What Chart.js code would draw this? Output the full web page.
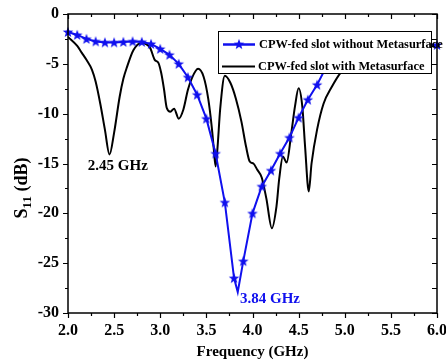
<!DOCTYPE html>
<html><head><meta charset="utf-8">
<script src="https://cdn.jsdelivr.net/npm/chart.js@4/dist/chart.umd.min.js"></script>
<style>html,body{margin:0;padding:0;background:#fff}</style>
</head><body>
<canvas id="c" width="446" height="363" style="display:block;width:446px;height:363px"></canvas>
<script>
// ---- data ----
const seriesNames = ['CPW-fed slot without Metasurface', 'CPW-fed slot with Metasurface'];
const freqWithout = [2.0,2.1,2.2,2.3,2.4,2.5,2.6,2.7,2.8,2.9,3.0,3.1,3.2,3.3,3.4,3.5,3.6,3.7,3.8,3.84,3.9,4.0,4.1,4.2,4.3,4.4,4.5,4.6,4.7,4.8,4.9,5.0,5.1,5.2,5.3,5.4,5.5,5.6,5.7,5.8,5.9,6.0];
const s11Without = [-1.8,-2.1,-2.5,-2.75,-2.85,-2.85,-2.8,-2.75,-2.8,-3.0,-3.5,-4.1,-5.0,-6.35,-8.1,-10.5,-14.0,-18.9,-26.5,-27.9,-24.8,-20.0,-17.3,-15.7,-14.0,-12.4,-10.4,-8.6,-7.1,-5.3,-4.5,-3.9,-3.5,-3.3,-3.2,-3.1,-3.1,-3.1,-3.1,-3.1,-3.1,-3.1];
const freqWith = [2.0,2.1,2.15,2.2,2.26,2.3,2.35,2.4,2.45,2.5,2.56,2.6,2.64,2.71,2.8,2.89,2.94,2.98,3.01,3.04,3.07,3.11,3.15,3.2,3.25,3.3,3.34,3.41,3.47,3.52,3.56,3.58,3.6,3.62,3.65,3.7,3.76,3.82,3.88,3.93,3.97,4.01,4.05,4.1,4.15,4.21,4.26,4.29,4.33,4.37,4.42,4.46,4.5,4.54,4.57,4.61,4.64,4.7,4.77,4.86,4.95,5.1,5.3,5.5,5.8,6.0];
const s11With = [-2.3,-3.2,-3.9,-4.6,-5.6,-6.8,-9.0,-11.6,-14.1,-11.9,-8.3,-6.5,-5.3,-3.6,-2.9,-3.4,-4.6,-4.9,-5.9,-7.5,-9.4,-9.8,-9.5,-10.5,-9.6,-7.6,-6.5,-5.5,-6.3,-8.5,-11.5,-13.5,-15.3,-13.5,-9.5,-6.2,-6.9,-8.5,-10.8,-13.3,-14.8,-15.0,-15.6,-16.4,-18.5,-21.5,-19.3,-16.5,-14.3,-14.9,-12.0,-9.3,-7.45,-9.3,-13.3,-17.8,-15.0,-11.6,-9.0,-7.3,-5.95,-4.6,-4.0,-3.6,-3.3,-3.2];
const xTicks = [2.0,2.5,3.0,3.5,4.0,4.5,5.0,5.5,6.0];
const yTicks = [0,-5,-10,-15,-20,-25,-30];
const markerSkip = [3.84]; // curve points drawn without a star
const noteTexts = ['2.45 GHz', '3.84 GHz'];
const noteFreq = [2.54, 4.19];
const noteS11 = [-15.25, -28.6];

const FONT = '"Liberation Serif", "Times New Roman", serif';
const BLUE = '#1010ee';

// star marker image
function makeStar(color) {
  const c = document.createElement('canvas');
  c.width = 12; c.height = 12;
  const g = c.getContext('2d');
  g.fillStyle = color;
  g.beginPath();
  for (let i = 0; i < 10; i++) {
    const r = i % 2 === 0 ? 5.6 : 2.3;
    const a = -Math.PI / 2 + i * Math.PI / 5;
    const px = 6 + r * Math.cos(a), py = 6.4 + r * Math.sin(a);
    if (i === 0) g.moveTo(px, py); else g.lineTo(px, py);
  }
  g.closePath(); g.fill();
  return c;
}
const starImg = makeStar(BLUE);

const decor = {
  id: 'decor',
  afterDraw(chart) {
    const ctx = chart.ctx, a = chart.chartArea;
    const xs = chart.scales.x, ys = chart.scales.y;
    ctx.save();
    // frame
    ctx.strokeStyle = '#000'; ctx.lineWidth = 1.5;
    ctx.strokeRect(a.left, a.top, a.right - a.left, a.bottom - a.top);
    // ticks
    ctx.lineWidth = 1.2;
    ctx.beginPath();
    for (let v = 2.0; v <= 6.001; v += 0.25) {
      const px = Math.round(xs.getPixelForValue(v)) + 0.5;
      const major = Math.abs(v * 2 - Math.round(v * 2)) < 1e-6;
      const L = major ? 5 : 3;
      ctx.moveTo(px, a.bottom); ctx.lineTo(px, a.bottom + L);
      ctx.moveTo(px, a.top); ctx.lineTo(px, a.top + L);
    }
    for (let v = 0; v >= -30.001; v -= 2.5) {
      const py = Math.round(ys.getPixelForValue(v)) + 0.5;
      const major = Math.abs(v / 5 - Math.round(v / 5)) < 1e-6;
      const L = major ? 5 : 3;
      ctx.moveTo(a.left, py); ctx.lineTo(a.left - L, py);
      ctx.moveTo(a.right, py); ctx.lineTo(a.right - 5, py);
    }
    ctx.stroke();

    // annotations
    ctx.textAlign = 'center'; ctx.textBaseline = 'middle';
    ctx.font = 'bold 15px ' + FONT;
    ctx.fillStyle = '#000';
    ctx.fillText(noteTexts[0], xs.getPixelForValue(noteFreq[0]), ys.getPixelForValue(noteS11[0]));
    ctx.fillStyle = BLUE;
    ctx.fillText(noteTexts[1], xs.getPixelForValue(noteFreq[1]), ys.getPixelForValue(noteS11[1]));

    // x title
    ctx.fillStyle = '#000';
    ctx.font = 'bold 15px ' + FONT;
    ctx.fillText('Frequency (GHz)', (a.left + a.right) / 2, 352);

    // y title with subscript
    ctx.save();
    ctx.translate(21, 188);
    ctx.rotate(-Math.PI / 2);
    ctx.textAlign = 'left'; ctx.textBaseline = 'alphabetic';
    const f1 = 'bold 18px ' + FONT, f2 = 'bold 13px ' + FONT;
    ctx.font = f1; const wS = ctx.measureText('S').width;
    ctx.font = f2; const w11 = ctx.measureText('11').width;
    ctx.font = f1; const wR = ctx.measureText(' (dB)').width;
    let x0 = -(wS + w11 + wR) / 2;
    ctx.font = f1; ctx.fillText('S', x0, 6);
    ctx.font = f2; ctx.fillText('11', x0 + wS, 10);
    ctx.font = f1; ctx.fillText(' (dB)', x0 + wS + w11, 6);
    ctx.restore();

    // legend
    const bx = 218.5, by = 31.5, bw = 213, bh = 42;
    ctx.fillStyle = '#fff';
    ctx.fillRect(bx, by, bw, bh);
    ctx.strokeStyle = '#000'; ctx.lineWidth = 1;
    ctx.strokeRect(bx, by, bw, bh);
    ctx.lineWidth = 2.5; ctx.strokeStyle = BLUE;
    ctx.beginPath(); ctx.moveTo(223, 44.5); ctx.lineTo(255, 44.5); ctx.stroke();
    ctx.drawImage(starImg, 239 - 6, 44.5 - 6.4);
    ctx.strokeStyle = '#000'; ctx.lineWidth = 2;
    ctx.beginPath(); ctx.moveTo(222, 66.5); ctx.lineTo(255, 66.5); ctx.stroke();
    ctx.fillStyle = '#000';
    ctx.font = 'bold 12.4px ' + FONT;
    ctx.textAlign = 'left'; ctx.textBaseline = 'middle';
    ctx.fillText(seriesNames[0], 259, 44.5);
    ctx.fillText(seriesNames[1], 258, 66.5);
    ctx.restore();
  }
};

new Chart(document.getElementById('c'), {
  type: 'line',
  data: {
    datasets: [
      {
        label: seriesNames[0],
        data: freqWithout.map((f, i) => ({x: f, y: s11Without[i]})),
        borderColor: BLUE, backgroundColor: BLUE, borderWidth: 2,
        tension: 0, pointStyle: starImg,
        pointRadius: c => markerSkip.includes(freqWithout[c.dataIndex]) ? 0 : 5,
        clip: 8, order: 0
      },
      {
        label: seriesNames[1],
        data: freqWith.map((f, i) => ({x: f, y: s11With[i]})),
        borderColor: '#000', backgroundColor: '#000', borderWidth: 2,
        cubicInterpolationMode: 'monotone', pointRadius: 0, order: 1
      }
    ]
  },
  options: {
    responsive: false, animation: false, devicePixelRatio: 1,
    layout: {padding: {left: 0, right: 9, top: 14, bottom: 0}},
    plugins: {legend: {display: false}, tooltip: {enabled: false}},
    scales: {
      x: {
        type: 'linear', min: 2, max: 6,
        afterBuildTicks: s => { s.ticks = xTicks.map(v => ({value: v})); },
        ticks: {color: '#000', font: {family: FONT, size: 16, weight: 'bold'}, padding: 8,
                maxRotation: 0, autoSkip: false, callback: v => Number(v).toFixed(1)},
        grid: {display: false, drawTicks: false}, border: {display: false},
        afterFit: s => { s.height = 50; s.paddingLeft = 0; s.paddingRight = 0; }
      },
      y: {
        type: 'linear', min: -30, max: 0,
        afterBuildTicks: s => { s.ticks = yTicks.map(v => ({value: v})); },
        ticks: {color: '#000', font: {family: FONT, size: 16, weight: 'bold'}, padding: 9,
                callback: v => String(v)},
        grid: {display: false, drawTicks: false}, border: {display: false},
        afterFit: s => { s.width = 68; s.paddingTop = 0; s.paddingBottom = 0; }
      }
    }
  },
  plugins: [decor]
});
</script>
</body></html>
